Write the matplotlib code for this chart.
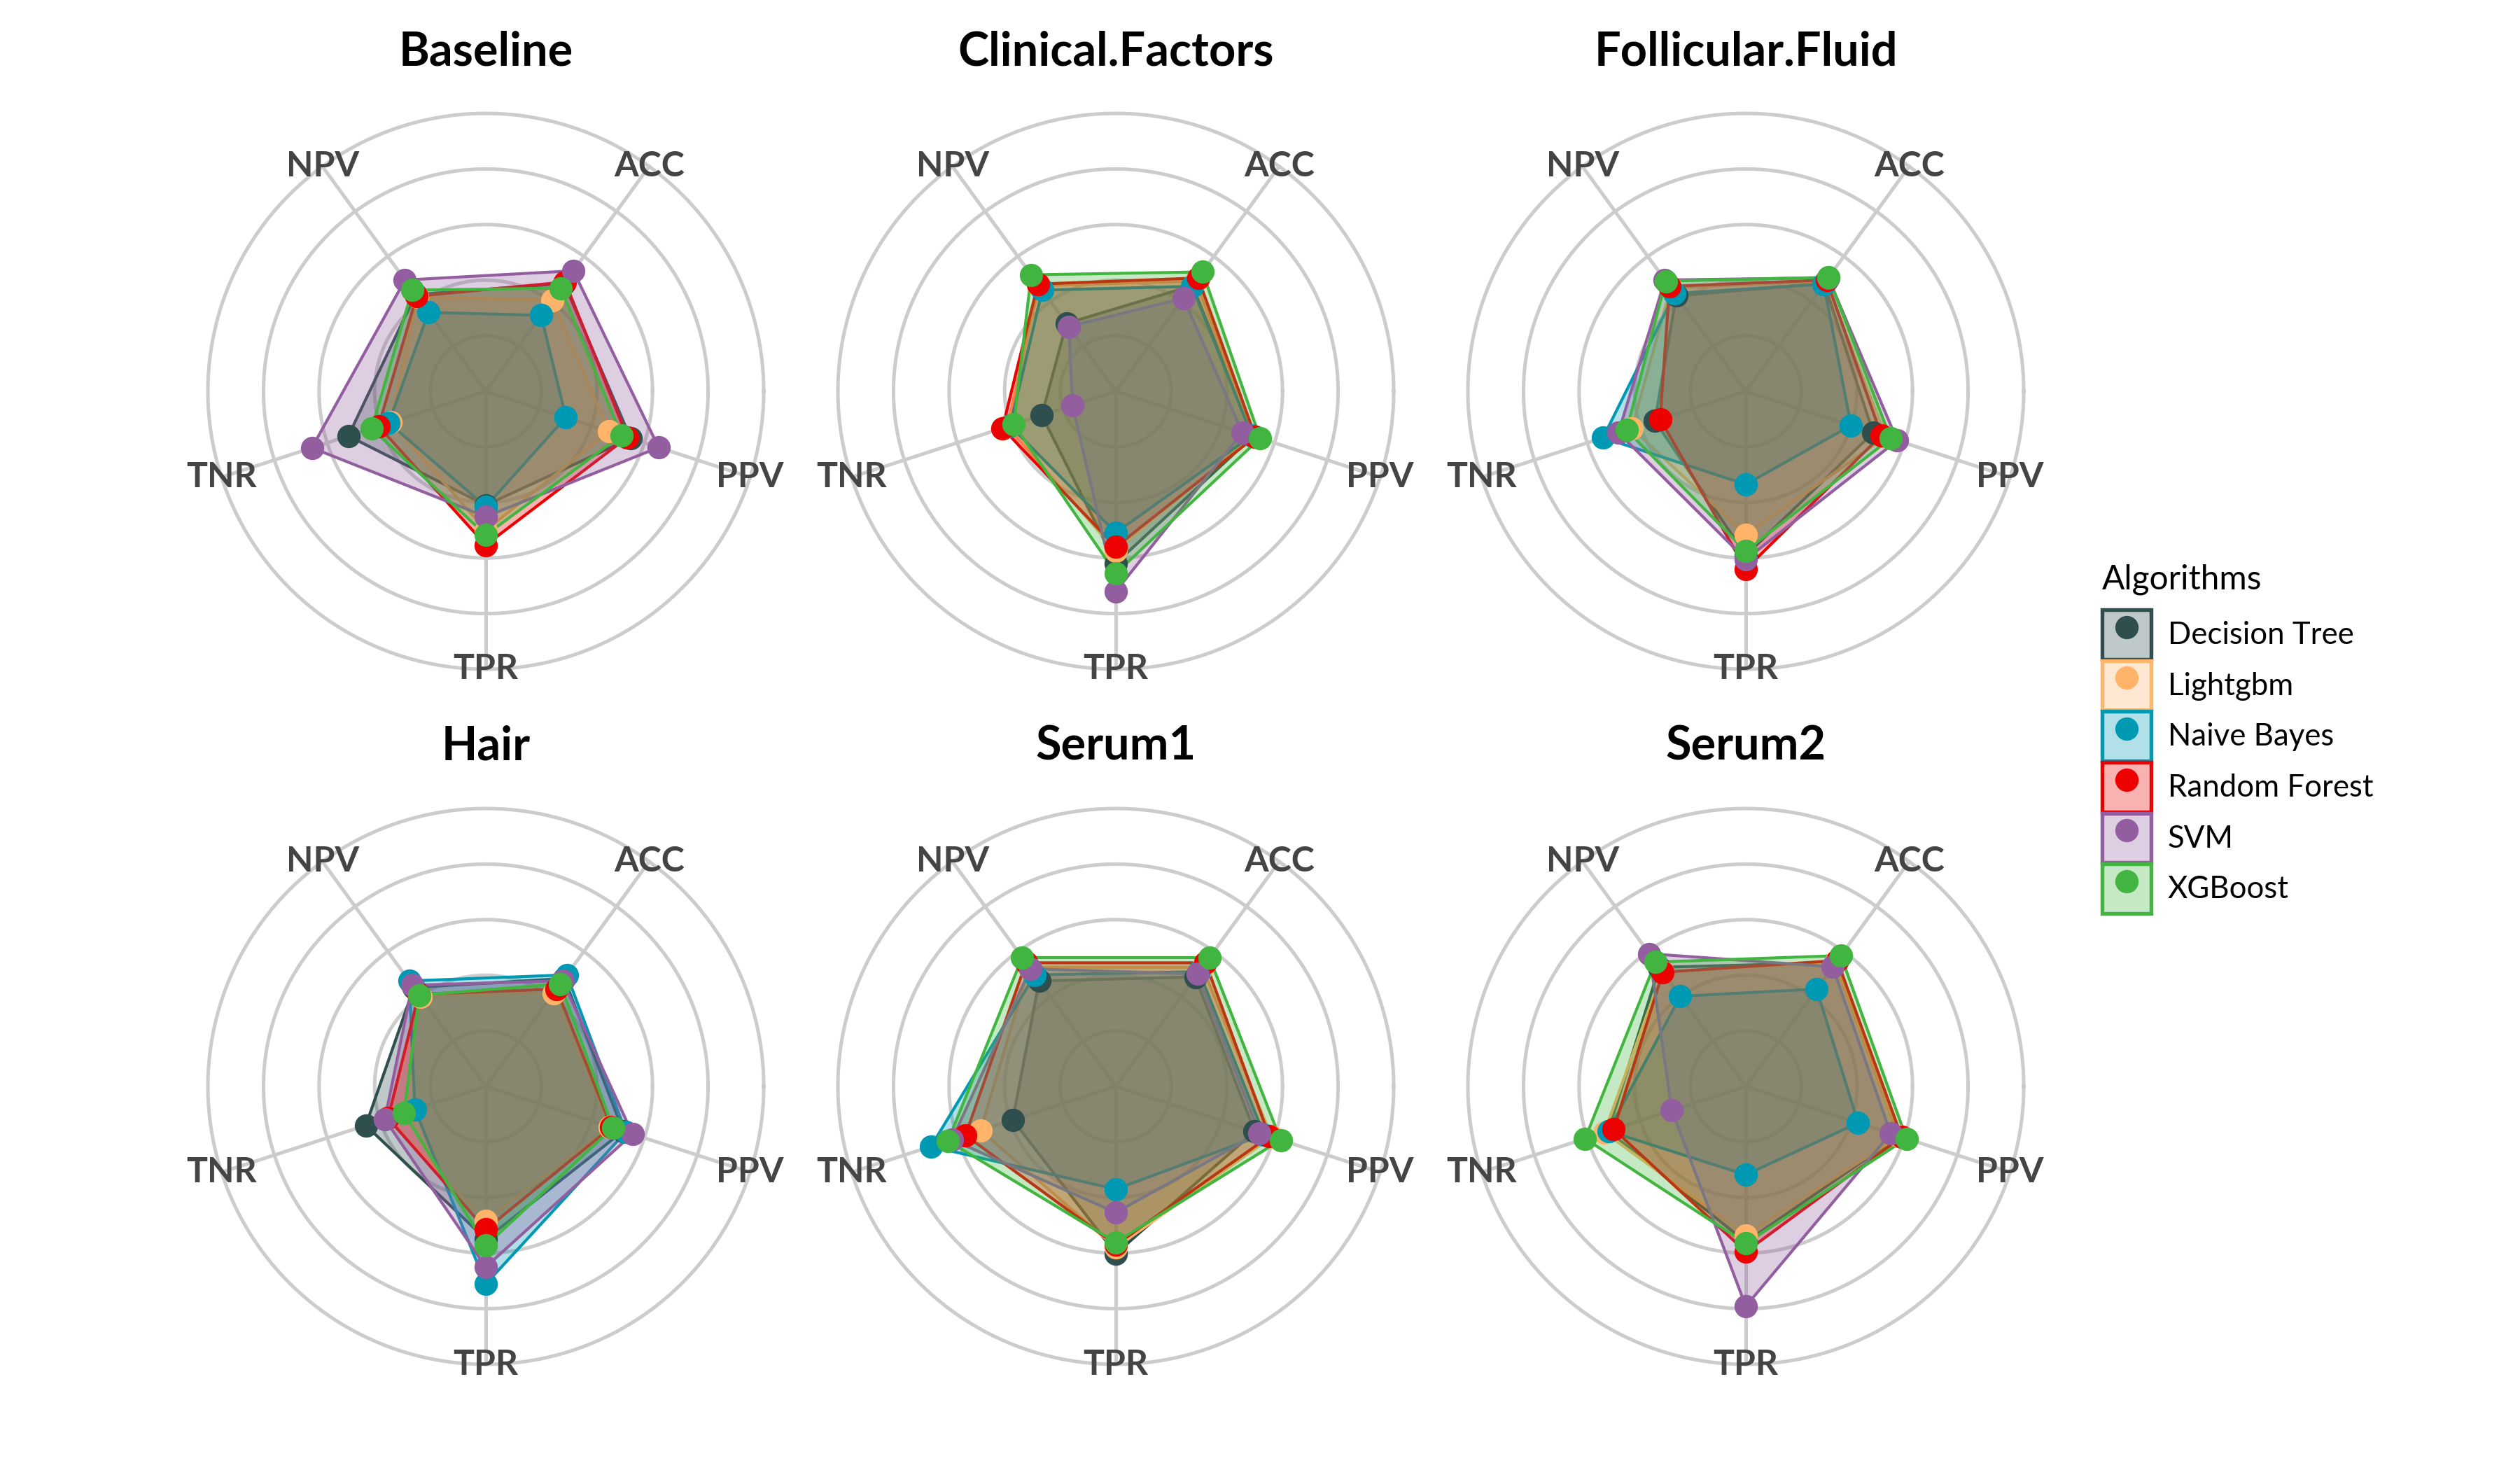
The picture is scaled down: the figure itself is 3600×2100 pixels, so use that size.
import numpy as np
import matplotlib
matplotlib.use("Agg")
import matplotlib.pyplot as plt
from matplotlib.patches import Patch
from matplotlib.lines import Line2D
from matplotlib.colors import to_rgba

plt.rcParams['font.family'] = ['Lato', 'DejaVu Sans']

metrics = ["TPR", "PPV", "ACC", "NPV", "TNR"]
algorithms = ["Decision Tree", "Lightgbm", "Naive Bayes", "Random Forest", "SVM", "XGBoost"]
colors = ["#2F4F4F", "#FFB469", "#0099B4", "#ED0000", "#925E9F", "#42B540"]

# one row per algorithm, columns follow metrics (TPR, PPV, ACC, NPV, TNR)
baseline = [
    [0.410, 0.548, 0.480, 0.430, 0.520],
    [0.500, 0.467, 0.405, 0.420, 0.360],
    [0.415, 0.303, 0.338, 0.351, 0.367],
    [0.553, 0.536, 0.486, 0.423, 0.406],
    [0.451, 0.654, 0.536, 0.495, 0.658],
    [0.517, 0.513, 0.459, 0.450, 0.432],
]
clinical = [
    [0.619, 0.520, 0.470, 0.302, 0.280],
    [0.575, 0.520, 0.490, 0.470, 0.410],
    [0.509, 0.515, 0.467, 0.450, 0.400],
    [0.560, 0.528, 0.504, 0.477, 0.429],
    [0.720, 0.479, 0.414, 0.288, 0.164],
    [0.655, 0.546, 0.531, 0.518, 0.386],
]
follicular = [
    [0.590, 0.482, 0.480, 0.425, 0.344],
    [0.517, 0.530, 0.490, 0.460, 0.431],
    [0.335, 0.398, 0.477, 0.435, 0.540],
    [0.640, 0.513, 0.495, 0.467, 0.324],
    [0.605, 0.573, 0.505, 0.495, 0.482],
    [0.575, 0.548, 0.507, 0.490, 0.451],
]
hair = [
    [0.550, 0.520, 0.480, 0.440, 0.454],
    [0.483, 0.470, 0.415, 0.400, 0.370],
    [0.711, 0.530, 0.496, 0.469, 0.268],
    [0.515, 0.475, 0.433, 0.410, 0.370],
    [0.650, 0.555, 0.470, 0.450, 0.382],
    [0.573, 0.481, 0.456, 0.406, 0.310],
]
serum1 = [
    [0.602, 0.525, 0.487, 0.469, 0.390],
    [0.580, 0.590, 0.530, 0.530, 0.512],
    [0.370, 0.560, 0.510, 0.496, 0.699],
    [0.570, 0.581, 0.550, 0.550, 0.569],
    [0.454, 0.543, 0.500, 0.523, 0.620],
    [0.561, 0.624, 0.573, 0.573, 0.635],
]
serum2 = [
    [0.560, 0.580, 0.550, 0.530, 0.520],
    [0.536, 0.580, 0.550, 0.510, 0.535],
    [0.318, 0.425, 0.433, 0.401, 0.520],
    [0.595, 0.590, 0.560, 0.508, 0.500],
    [0.791, 0.548, 0.532, 0.590, 0.280],
    [0.565, 0.608, 0.582, 0.553, 0.608],
]

panel_titles = ["Baseline", "Clinical.Factors", "Follicular.Fluid", "Hair", "Serum1", "Serum2"]
panel_data = [baseline, clinical, follicular, hair, serum1, serum2]

W, H = 3600, 2100
fig = plt.figure(figsize=(12, 7), dpi=300)

angles = np.deg2rad(np.arange(len(metrics)) * 72 - 90)
circle_t = np.linspace(0, 2 * np.pi, 361)
grid_col = "#CCCCCC"

centers_x = [694, 1594, 2494]
centers_y = [559, 1552]
rad = 397

for k, (title, data) in enumerate(zip(panel_titles, panel_data)):
    cx = centers_x[k % 3]
    cy = centers_y[k // 3]
    ax = fig.add_axes([(cx - rad) / W, (H - cy - rad) / H, 2 * rad / W, 2 * rad / H],
                      projection='polar')
    ax.set_axis_off()
    ax.set_ylim(0, 1)

    # grid circles and spokes
    for r in [0.2, 0.4, 0.6, 0.8, 1.0]:
        ax.plot(circle_t, np.full(circle_t.size, r), color=grid_col, lw=1.2, zorder=1, clip_on=False)
    for a in angles:
        ax.plot([a, a], [0, 1], color=grid_col, lw=1.2, zorder=1, clip_on=False)

    # polygons
    for vals, c in zip(data, colors):
        ax.fill(angles, vals, facecolor=to_rgba(c, 0.3), edgecolor=c, lw=1.0, zorder=2)
    # points on top
    for vals, c in zip(data, colors):
        ax.plot(angles, vals, 'o', color=c, markersize=8, markeredgewidth=0, zorder=3)

    for a, m in zip(angles, metrics):
        ax.text(a, 1.0, m, ha='center', va='center', fontsize=12, fontweight='bold',
                color='#444444', zorder=1.5)

    fig.text(cx / W, 1 - (74 + 993 * (k // 3)) / H, title, ha='center', va='center',
             fontsize=16, fontweight='bold', color='black')

handles = [(Patch(facecolor=to_rgba(c, 0.3), edgecolor=c, lw=1.3),
            Line2D([], [], marker='o', color=c, linestyle='', markersize=8, markeredgewidth=0))
           for c in colors]
leg = fig.legend(handles, algorithms, title="Algorithms", loc='upper left',
                 bbox_to_anchor=(2981 / W, 1 - 784 / H), frameon=False, fontsize=10.5,
                 title_fontsize=11.5, handlelength=1.6, handleheight=2.1,
                 handletextpad=0.55, labelspacing=0.05, alignment='left', borderpad=0)
leg._legend_box.sep = 5

fig.savefig("out.png", dpi=300)
